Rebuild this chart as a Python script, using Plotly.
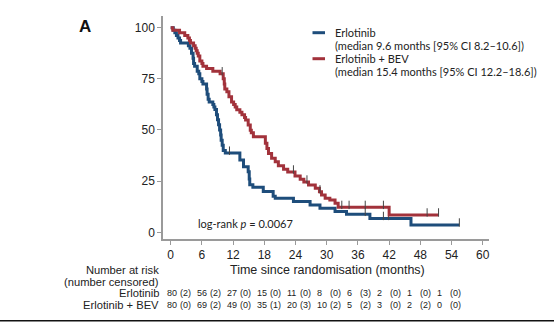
import numpy as np
import plotly.graph_objects as go

# ---------------- data ----------------
t_erl = [0, 0.5, 0.8, 1.1, 1.4, 1.7, 1.9, 3.4, 3.7, 4.0, 4.3, 4.4, 4.6, 5.1, 5.4,
         5.6, 6.0, 6.2, 6.9, 7.0, 7.2, 7.4, 8.1, 8.3, 8.5, 8.8, 9.0, 9.2, 9.4, 9.6,
         9.7, 9.9, 10.1, 10.5, 13.3, 14.0, 14.9, 15.1, 15.2, 15.8, 17.8, 19.7, 20.1,
         23.6, 26.8, 28.7, 31.6, 33.8, 38.3, 46.2, 55.5]
s_erl = [100, 98.7, 97.5, 96.2, 95, 93.7, 92.5, 91.2, 90, 87.5, 85, 82.5, 81.2, 78.7, 77.5,
         75, 73.7, 72.5, 70, 67.5, 65, 63.7, 62.5, 61.2, 60, 57.5, 55, 52.5, 50, 47.5,
         45, 42.5, 40, 38.7, 35.3, 32.0, 29.6, 26.0, 23.2, 22.0, 20.0, 17.6, 16.6,
         15.0, 13.3, 11.8, 10.2, 8.8, 6.8, 3.6, 3.6]
censor_erl = [11.3, 37.4, 40.9, 41.9, 55.5]

t_bev = [0, 0.4, 1.7, 2.7, 3.3, 3.6, 3.8, 4.4, 4.7, 4.9, 5.1, 5.3, 5.6, 6.0, 6.2,
         6.9, 8.1, 9.5, 10.1, 10.3, 10.4, 10.8, 11.2, 11.7, 12.1, 12.4, 12.7, 13.3, 13.7, 14.2,
         14.4, 14.9, 15.3, 15.5, 15.9, 18.2, 18.5, 18.8, 19.4, 20.1, 20.7, 21.7, 22.5, 23.9, 24.9,
         25.6, 26.5, 27.8, 28.6, 29.0, 29.7, 30.6, 31.6, 32.2, 42.0, 51.5]
s_bev = [100, 98.7, 97.5, 96.2, 95, 93.7, 92.5, 91.2, 90, 88.7, 87.5, 86.2, 83.7, 82.5, 81.2,
         80, 78.7, 77.5, 75, 72.5, 70, 68.7, 66.2, 63.7, 62.4, 61.2, 59.9, 58.7, 57.4, 56.1,
         54.9, 52.4, 49.9, 48.6, 46.7, 43.5, 41, 38.5, 36.2, 34.5, 32.5, 30.8, 29.5, 27.5, 25.9,
         24.6, 23.1, 21.5, 19.8, 18.2, 16.6, 15.8, 14.2, 12.2, 8.5, 8.5]
censor_bev = [9.9, 23.6, 26.2, 28.7, 32.9, 34.3, 37.4, 40.9, 49.3, 51.5]

x_ticks = [0, 6, 12, 18, 24, 30, 36, 42, 48, 54, 60]
y_ticks = [0, 25, 50, 75, 100]

risk_times = [0, 6, 12, 18, 24, 30, 36, 42, 48, 54]
risk_erl = [80, 56, 27, 15, 11, 8, 6, 2, 1, 1]
cens_erl = [2, 2, 0, 0, 0, 0, 3, 0, 0, 0]
risk_bev = [80, 69, 49, 35, 20, 10, 5, 3, 2, 0]
cens_bev = [0, 2, 0, 1, 3, 2, 2, 0, 2, 0]

names = ["Erlotinib", "Erlotinib + BEV"]
medians = ["(median 9.6 months [95% CI 8.2\u201310.6])",
           "(median 15.4 months [95% CI 12.2\u201318.6])"]

BLUE = "#1e4d7b"
RED = "#a2323b"

# ---------------- geometry helpers (layout only) ----------------
W, H = 554, 322
L, R, T, B = 163, 65, 16, 83
PW, PH = W - L - R, H - T - B


def xp(px):
    return (px - L) / PW


def yp(py):
    return (H - B - py) / PH


def step_value(ts, ss, t):
    i = np.searchsorted(np.array(ts), t, side="right") - 1
    return ss[max(i, 0)]


fig = go.Figure()
for ts, ss, cens, col, nm in [(t_erl, s_erl, censor_erl, BLUE, names[0]),
                              (t_bev, s_bev, censor_bev, RED, names[1])]:
    fig.add_trace(go.Scatter(x=ts, y=ss, mode="lines", line=dict(color=col, width=3, shape="hv"),
                             name=nm, showlegend=False))
    fig.add_trace(go.Scatter(x=cens, y=[step_value(ts, ss, c) + 1.2 for c in cens], mode="markers",
                             marker=dict(symbol="line-ns", size=6, line=dict(color="#444", width=1)),
                             showlegend=False, hoverinfo="skip"))

AX = dict(showline=True, linecolor="#9a9a9a", linewidth=1.5, ticks="outside", ticklen=4,
          tickcolor="#9a9a9a", tickwidth=1, showgrid=False, zeroline=False,
          tickfont=dict(family="Liberation Sans, Arial", size=12, color="#222"))

fig.update_layout(
    width=W, height=H, margin=dict(l=L, r=R, t=T, b=B),
    paper_bgcolor="white", plot_bgcolor="white",
    xaxis=dict(range=[-1.48, 61.2], tickvals=x_ticks, **AX),
    yaxis=dict(range=[-3.27, 105.7], tickvals=y_ticks, **AX),
)

ann = []
# panel label
ann.append(dict(x=xp(85), y=yp(26), text="<b>A</b>", font=dict(family="Liberation Sans, Arial", size=17, color="#111")))
# axis title
ann.append(dict(x=xp(327), y=yp(270), text="Time since randomisation (months)",
                font=dict(family="Liberation Sans, Arial", size=12.5, color="#222")))
# log-rank
ann.append(dict(x=xp(196), y=yp(223), xanchor="left", text="log-rank <i>p</i> = 0.0067",
                font=dict(family="Lato, Open Sans", size=11, color="#222")))
# legend
leg_font = dict(family="Lato, Open Sans", size=11, color="#222")
for i, (nm, md, col) in enumerate(zip(names, medians, [BLUE, RED])):
    y0 = 32.7 + i * 26
    fig.add_shape(type="line", xref="paper", yref="paper", x0=xp(312.5), x1=xp(325), y0=yp(y0), y1=yp(y0),
                  line=dict(color=col, width=3))
    ann.append(dict(x=xp(333), y=yp(y0), xanchor="left", text=nm, font=leg_font))
    ann.append(dict(x=xp(333), y=yp(y0 + 13), xanchor="left", text=md, font=leg_font))
# risk table labels
lab_font = dict(family="Liberation Sans, Arial", size=11.2, color="#222")
for txt, py in [("Number at risk", 270.3), ("(number censored)", 282), (names[0], 293.3), (names[1], 304.8)]:
    ann.append(dict(x=xp(161), y=yp(py), xanchor="right", text=txt, font=lab_font))
num_font = dict(family="Liberation Sans, Arial", size=9, color="#222")
for row, (nums, cs) in enumerate([(risk_erl, cens_erl), (risk_bev, cens_bev)]):
    py = 293.3 if row == 0 else 304.8
    for i, (n, c) in enumerate(zip(nums, cs)):
        x0 = 165.4 + 29.9 * i
        ann.append(dict(x=xp(x0), y=yp(py), xanchor="left", text=str(n), font=num_font))
        ann.append(dict(x=xp(x0 + 13), y=yp(py), xanchor="left", text=f"({c})", font=num_font))

for a in ann:
    a.setdefault("xanchor", "center")
    a.update(xref="paper", yref="paper", yanchor="middle", showarrow=False)
fig.update_layout(annotations=ann)

# bottom rule
fig.add_shape(type="line", xref="paper", yref="paper", x0=xp(0), x1=xp(554), y0=yp(320.7), y1=yp(320.7),
              line=dict(color="#111", width=1.5))

fig.write_html("out.html")
